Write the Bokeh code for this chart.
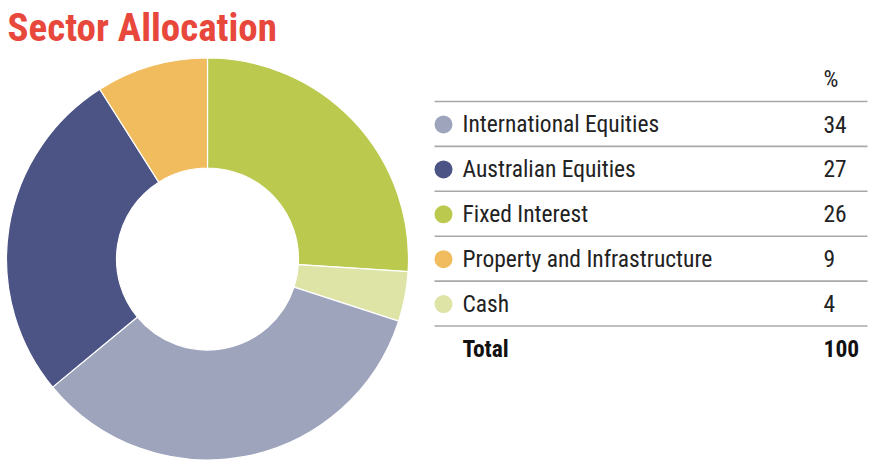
import math
from bokeh.plotting import figure
from bokeh.models import Range1d
from bokeh.core.properties import value
from bokeh.embed import file_html
from bokeh.resources import INLINE

# ---- data ----
title_text = "Sector Allocation"
categories = ["International Equities", "Australian Equities", "Fixed Interest",
              "Property and Infrastructure", "Cash"]
values = [34, 27, 26, 9, 4]
colors = ["#9fa4bd", "#4c5485", "#bbc94f", "#f0bc5e", "#dde4a6"]
pie_order = ["Fixed Interest", "Cash", "International Equities",
             "Australian Equities", "Property and Infrastructure"]
total_label = "Total"
total_value = 100
pct_header = "%"

W, H = 877, 465
FONT = "'Roboto Condensed', 'Liberation Sans Narrow', 'DejaVu Sans Condensed', sans-serif"
ROW_SIZE = 23.5
ROW_SHIFT = 9.0     # empirical baseline correction for SVG text
TITLE_SHIFT = 12.0


def fx(ix):
    return ix


def fy(iy):
    return H - iy


p = figure(width=W, height=H, output_backend="svg", toolbar_location=None,
           x_axis_type=None, y_axis_type=None, min_border=0,
           x_range=Range1d(0, W), y_range=Range1d(0, H))
p.outline_line_color = None
p.grid.visible = False
p.background_fill_color = "white"
p.border_fill_color = "white"

# ---- donut ----
cx, cy = fx(207), fy(258.5)
total = sum(values)
cum = 0.0
starts, ends, cols = [], [], []
for name in pie_order:
    i = categories.index(name)
    v = values[i]
    starts.append(math.pi / 2 - 2 * math.pi * cum / total)
    cum += v
    ends.append(math.pi / 2 - 2 * math.pi * cum / total)
    cols.append(colors[i])
p.annular_wedge(x=[cx] * len(starts), y=[cy] * len(starts),
                inner_radius=91, outer_radius=201,
                inner_radius_units="screen", outer_radius_units="screen",
                start_angle=starts, end_angle=ends, direction="clock",
                fill_color=cols, line_color="white", line_width=1.2)

# ---- title ----
p.text(x=[fx(7)], y=[fy(39 - TITLE_SHIFT)], text=[title_text], text_font=value(FONT),
       text_font_style="bold", text_font_size="39px", text_color="#e8473b",
       text_baseline="alphabetic", text_align="left")

# ---- table ----
row0 = 124.0
step = 44.9
line_x0, line_x1 = fx(434), fx(867)
num_x = fx(823)
label_x = fx(462)
marker_x = fx(443)
fs = f"{ROW_SIZE}px"

# header
p.text(x=[num_x], y=[fy(87 - ROW_SHIFT)], text=[pct_header], text_font=value(FONT),
       text_font_size=fs, text_color="#222222", text_baseline="alphabetic")

line_ys = [fy(101 + step * k) for k in range(len(categories) + 1)]
p.segment(x0=[line_x0] * len(line_ys), x1=[line_x1] * len(line_ys),
          y0=line_ys, y1=line_ys, line_color="#a8a8a8", line_width=1.6)

row_centers = [fy(row0 + step * k) for k in range(len(categories))]
baselines = [fy(row0 + step * k + 8.5 - ROW_SHIFT) for k in range(len(categories))]
p.scatter(x=[marker_x] * len(categories), y=row_centers, size=18,
          fill_color=colors, line_color=None, marker="circle")
p.text(x=[label_x] * len(categories), y=baselines, text=categories,
       text_font=value(FONT), text_font_size=fs, text_color="#222222",
       text_baseline="alphabetic")
p.text(x=[num_x] * len(values), y=baselines, text=[str(v) for v in values],
       text_font=value(FONT), text_font_size=fs, text_color="#222222",
       text_baseline="alphabetic")

# total row
tb = fy(row0 + step * len(categories) + 8.5 - ROW_SHIFT)
p.text(x=[label_x], y=[tb], text=[total_label], text_font=value(FONT),
       text_font_style="bold", text_font_size=fs, text_color="#111111",
       text_baseline="alphabetic")
p.text(x=[num_x], y=[tb], text=[str(total_value)], text_font=value(FONT),
       text_font_style="bold", text_font_size=fs, text_color="#111111",
       text_baseline="alphabetic")

open("out.html", "w").write(file_html(p, INLINE))
